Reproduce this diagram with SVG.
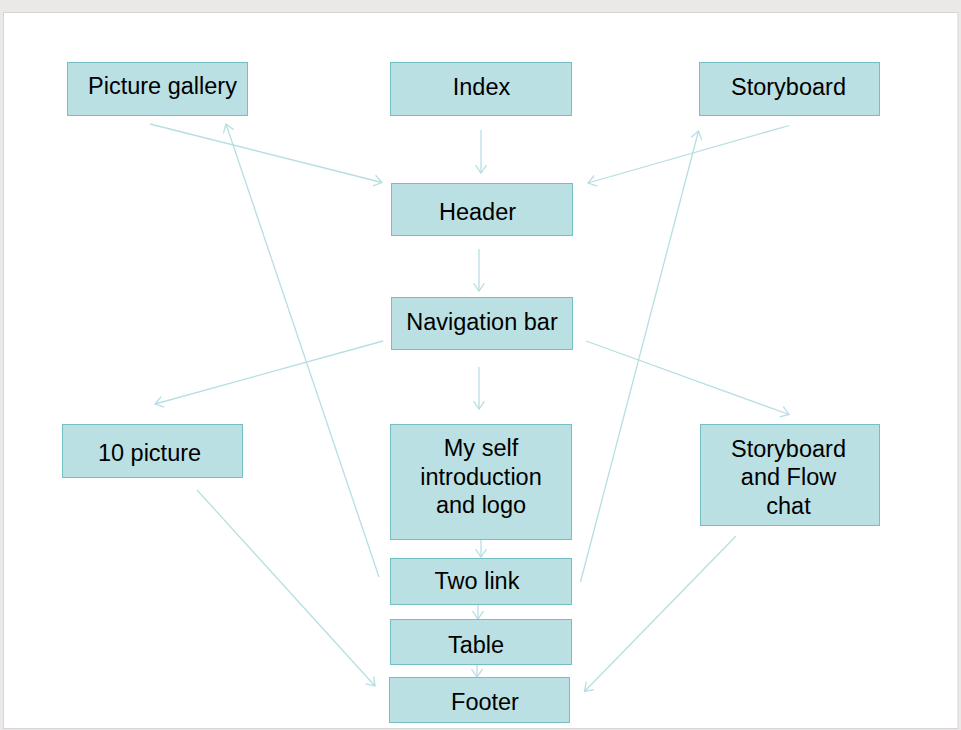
<svg xmlns="http://www.w3.org/2000/svg" width="961" height="730" viewBox="0 0 961 730">
<style>
.box{fill:#BBE0E3;stroke:#75BEC4;stroke-width:1}
.lbl{font-family:"Liberation Sans",Arial,sans-serif;font-size:23.5px;fill:#000;text-anchor:middle}
.con{fill:none;stroke:#B7DEE2;stroke-width:1.3}
</style>
<defs>
<marker id="ah" markerWidth="14" markerHeight="14" refX="9" refY="6" orient="auto" markerUnits="userSpaceOnUse">
<path d="M1,0.5 L9,6 L1,11.5" fill="none" stroke="#B7DEE2" stroke-width="1.3"/>
</marker>
</defs>
<rect x="0" y="0" width="961" height="730" fill="#EBE9E8"/>
<rect x="3.5" y="12.5" width="954.5" height="716" fill="#FFFFFF" stroke="#D6D4D4" stroke-width="1"/>
<g id="connectors" class="con" marker-end="url(#ah)">
<line x1="481" y1="130" x2="481" y2="173"/>
<line x1="479" y1="249" x2="479" y2="291"/>
<line x1="479" y1="367" x2="479" y2="409"/>
<line x1="150" y1="124" x2="382" y2="182.5"/>
<line x1="789" y1="125.5" x2="588" y2="183"/>
<line x1="383" y1="341" x2="155" y2="404"/>
<line x1="586" y1="341" x2="789" y2="414.5"/>
<line x1="379" y1="577" x2="226" y2="124"/>
<line x1="580.5" y1="582" x2="698.5" y2="131"/>
<line x1="197" y1="490" x2="375" y2="686"/>
<line x1="736" y1="536" x2="584.5" y2="691.5"/>
<line x1="481" y1="540" x2="481" y2="557"/>
<line x1="478" y1="605" x2="478" y2="619"/>
<line x1="477" y1="665" x2="477" y2="677"/>
</g>
<g id="picture-gallery"><rect class="box" x="67.5" y="62.5" width="180" height="53"/><text class="lbl" x="162.5" y="93.5">Picture gallery</text></g>
<g id="index"><rect class="box" x="390.5" y="62.5" width="181" height="53"/><text class="lbl" x="481.5" y="95">Index</text></g>
<g id="storyboard"><rect class="box" x="699.5" y="62.5" width="180" height="53"/><text class="lbl" x="788.5" y="95">Storyboard</text></g>
<g id="header"><rect class="box" x="391.5" y="183.5" width="181" height="52"/><text class="lbl" x="477.5" y="219.5">Header</text></g>
<g id="navigation-bar"><rect class="box" x="391.5" y="297.5" width="181" height="52"/><text class="lbl" x="482" y="330">Navigation bar</text></g>
<g id="ten-picture"><rect class="box" x="62.5" y="424.5" width="180" height="53"/><text class="lbl" x="149.5" y="461">10 picture</text></g>
<g id="my-self"><rect class="box" x="390.5" y="424.5" width="181" height="115"/><text class="lbl" x="481" y="456">My self</text><text class="lbl" x="481" y="484.5">introduction</text><text class="lbl" x="481" y="513">and logo</text></g>
<g id="storyboard-flow"><rect class="box" x="700.5" y="424.5" width="179" height="101"/><text class="lbl" x="788.5" y="456.5">Storyboard</text><text class="lbl" x="788.5" y="485">and Flow</text><text class="lbl" x="788.5" y="513.5">chat</text></g>
<g id="two-link"><rect class="box" x="390.5" y="558.5" width="181" height="46"/><text class="lbl" x="477" y="588.5">Two link</text></g>
<g id="table"><rect class="box" x="390.5" y="619.5" width="181" height="45"/><text class="lbl" x="476" y="652.5">Table</text></g>
<g id="footer"><rect class="box" x="389.5" y="677.5" width="180" height="45"/><text class="lbl" x="485" y="709.5">Footer</text></g>
</svg>
